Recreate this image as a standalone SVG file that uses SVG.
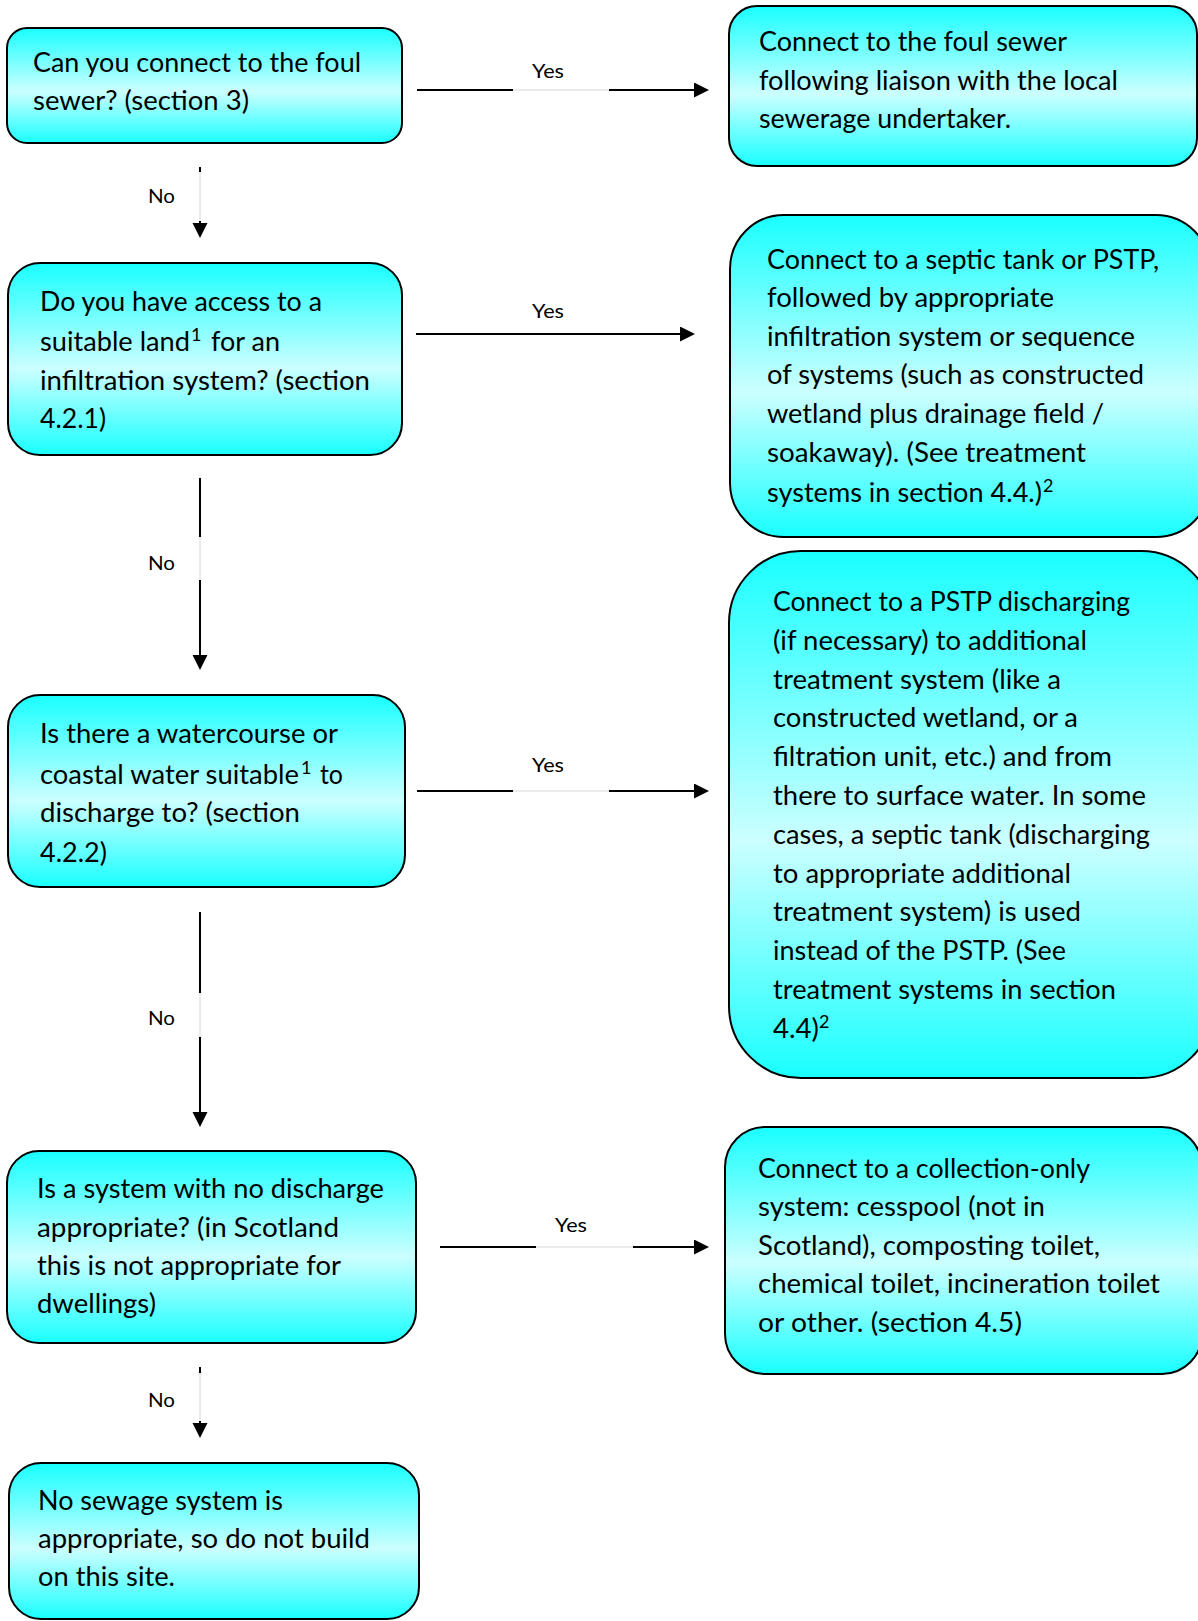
<svg xmlns="http://www.w3.org/2000/svg" width="1198" height="1621" viewBox="0 0 1198 1621">
<defs>
<linearGradient id="g" x1="0" y1="0" x2="0" y2="1">
<stop offset="0" stop-color="#19FFFF"/>
<stop offset="0.55" stop-color="#CCFFFF"/>
<stop offset="1" stop-color="#19FFFF"/>
</linearGradient>
<marker id="ah" markerUnits="userSpaceOnUse" markerWidth="16" markerHeight="16" refX="0" refY="7.5" orient="auto">
<path d="M0,0 L15,7.5 L0,15 Z" fill="#000"/>
</marker>
</defs>
<style>
.box{fill:url(#g);stroke:#000;stroke-width:2}
.t{font-family:Lato,"Open Sans","Liberation Sans",sans-serif;font-size:27px;fill:#000}
.s{font-family:Lato,"Open Sans","Liberation Sans",sans-serif;font-size:18px;fill:#000}
.l{font-family:Lato,"Open Sans","Liberation Sans",sans-serif;font-size:20px;fill:#000}
.c{stroke:#000;stroke-width:2;fill:none}
.ca{stroke:#000;stroke-width:2;fill:none;marker-end:url(#ah)}
.gap{stroke:#D6D6D6;stroke-width:1;fill:none}
</style>

<g id="connectors">
<!-- Yes 1 -->
<line class="c" x1="417" y1="90" x2="513" y2="90"/>
<line class="gap" x1="513" y1="90" x2="609" y2="90"/>
<line class="ca" x1="609" y1="90" x2="694" y2="90"/>
<text class="l" x="532" y="78" textLength="32" lengthAdjust="spacingAndGlyphs">Yes</text>
<!-- No 1 -->
<line class="c" x1="200" y1="167" x2="200" y2="172"/>
<line class="gap" x1="200" y1="172" x2="200" y2="221"/>
<line class="ca" x1="200" y1="221" x2="200" y2="223"/>
<text class="l" x="148" y="203" textLength="27" lengthAdjust="spacingAndGlyphs">No</text>
<!-- Yes 2 -->
<line class="ca" x1="416" y1="334" x2="680" y2="334"/>
<text class="l" x="532" y="318" textLength="32" lengthAdjust="spacingAndGlyphs">Yes</text>
<!-- No 2 -->
<line class="c" x1="200" y1="478" x2="200" y2="537"/>
<line class="gap" x1="200" y1="537" x2="200" y2="580"/>
<line class="ca" x1="200" y1="580" x2="200" y2="655"/>
<text class="l" x="148" y="570" textLength="27" lengthAdjust="spacingAndGlyphs">No</text>
<!-- Yes 3 -->
<line class="c" x1="417" y1="791" x2="513" y2="791"/>
<line class="gap" x1="513" y1="791" x2="609" y2="791"/>
<line class="ca" x1="609" y1="791" x2="694" y2="791"/>
<text class="l" x="532" y="772" textLength="32" lengthAdjust="spacingAndGlyphs">Yes</text>
<!-- No 3 -->
<line class="c" x1="200" y1="912" x2="200" y2="993"/>
<line class="gap" x1="200" y1="993" x2="200" y2="1037"/>
<line class="ca" x1="200" y1="1037" x2="200" y2="1112"/>
<text class="l" x="148" y="1025" textLength="27" lengthAdjust="spacingAndGlyphs">No</text>
<!-- Yes 4 -->
<line class="c" x1="440" y1="1247" x2="536" y2="1247"/>
<line class="gap" x1="536" y1="1247" x2="633" y2="1247"/>
<line class="ca" x1="633" y1="1247" x2="694" y2="1247"/>
<text class="l" x="555" y="1232" textLength="32" lengthAdjust="spacingAndGlyphs">Yes</text>
<!-- No 4 -->
<line class="c" x1="200" y1="1367" x2="200" y2="1373"/>
<line class="gap" x1="200" y1="1373" x2="200" y2="1421"/>
<line class="ca" x1="200" y1="1421" x2="200" y2="1423"/>
<text class="l" x="148" y="1407" textLength="27" lengthAdjust="spacingAndGlyphs">No</text>
</g>

<g id="q1">
<rect class="box" x="7" y="28" width="395" height="115" rx="20"/>
<text class="t" x="33" y="72" textLength="328" lengthAdjust="spacingAndGlyphs">Can you connect to the foul</text>
<text class="t" x="33" y="110" textLength="216" lengthAdjust="spacingAndGlyphs">sewer? (section 3)</text>
</g>

<g id="a1">
<rect class="box" x="729" y="6" width="468" height="160" rx="28"/>
<text class="t" x="759" y="51" textLength="308" lengthAdjust="spacingAndGlyphs">Connect to the foul sewer</text>
<text class="t" x="759" y="90" textLength="359" lengthAdjust="spacingAndGlyphs">following liaison with the local</text>
<text class="t" x="759" y="128" textLength="252" lengthAdjust="spacingAndGlyphs">sewerage undertaker.</text>
</g>

<g id="q2">
<rect class="box" x="8" y="263" width="394" height="192" rx="32"/>
<text class="t" x="40" y="311" textLength="282" lengthAdjust="spacingAndGlyphs">Do you have access to a</text>
<text class="t" x="40" y="351" textLength="150" lengthAdjust="spacingAndGlyphs">suitable land</text>
<text class="s" x="191" y="341">1</text>
<text class="t" x="211" y="351" textLength="69" lengthAdjust="spacingAndGlyphs">for an</text>
<text class="t" x="40" y="390" textLength="330" lengthAdjust="spacingAndGlyphs">infiltration system? (section</text>
<text class="t" x="40" y="428" textLength="66" lengthAdjust="spacingAndGlyphs">4.2.1)</text>
</g>

<g id="a2">
<rect class="box" x="730" y="215" width="480" height="322" rx="54"/>
<text class="t" x="767" y="269" textLength="392" lengthAdjust="spacingAndGlyphs">Connect to a septic tank or PSTP,</text>
<text class="t" x="767" y="307" textLength="287" lengthAdjust="spacingAndGlyphs">followed by appropriate</text>
<text class="t" x="767" y="346" textLength="368" lengthAdjust="spacingAndGlyphs">infiltration system or sequence</text>
<text class="t" x="767" y="384" textLength="377" lengthAdjust="spacingAndGlyphs">of systems (such as constructed</text>
<text class="t" x="767" y="423" textLength="337" lengthAdjust="spacingAndGlyphs">wetland plus drainage field /</text>
<text class="t" x="767" y="462" textLength="319" lengthAdjust="spacingAndGlyphs">soakaway). (See treatment</text>
<text class="t" x="767" y="502" textLength="275" lengthAdjust="spacingAndGlyphs">systems in section 4.4.)</text>
<text class="s" x="1043" y="492">2</text>
</g>

<g id="q3">
<rect class="box" x="8" y="695" width="397" height="192" rx="32"/>
<text class="t" x="40" y="743" textLength="298" lengthAdjust="spacingAndGlyphs">Is there a watercourse or</text>
<text class="t" x="40" y="784" textLength="259" lengthAdjust="spacingAndGlyphs">coastal water suitable</text>
<text class="s" x="301" y="774">1</text>
<text class="t" x="320" y="784" textLength="23" lengthAdjust="spacingAndGlyphs">to</text>
<text class="t" x="40" y="822" textLength="260" lengthAdjust="spacingAndGlyphs">discharge to? (section</text>
<text class="t" x="40" y="862" textLength="67" lengthAdjust="spacingAndGlyphs">4.2.2)</text>
</g>

<g id="a3">
<rect class="box" x="729" y="551" width="484" height="527" rx="72"/>
<text class="t" x="773" y="611" textLength="357" lengthAdjust="spacingAndGlyphs">Connect to a PSTP discharging</text>
<text class="t" x="773" y="650" textLength="314" lengthAdjust="spacingAndGlyphs">(if necessary) to additional</text>
<text class="t" x="773" y="689" textLength="288" lengthAdjust="spacingAndGlyphs">treatment system (like a</text>
<text class="t" x="773" y="727" textLength="305" lengthAdjust="spacingAndGlyphs">constructed wetland, or a</text>
<text class="t" x="773" y="766" textLength="339" lengthAdjust="spacingAndGlyphs">filtration unit, etc.) and from</text>
<text class="t" x="773" y="805" textLength="373" lengthAdjust="spacingAndGlyphs">there to surface water. In some</text>
<text class="t" x="773" y="844" textLength="377" lengthAdjust="spacingAndGlyphs">cases, a septic tank (discharging</text>
<text class="t" x="773" y="883" textLength="298" lengthAdjust="spacingAndGlyphs">to appropriate additional</text>
<text class="t" x="773" y="921" textLength="308" lengthAdjust="spacingAndGlyphs">treatment system) is used</text>
<text class="t" x="773" y="960" textLength="293" lengthAdjust="spacingAndGlyphs">instead of the PSTP. (See</text>
<text class="t" x="773" y="999" textLength="343" lengthAdjust="spacingAndGlyphs">treatment systems in section</text>
<text class="t" x="773" y="1038" textLength="46" lengthAdjust="spacingAndGlyphs">4.4)</text>
<text class="s" x="819" y="1028">2</text>
</g>

<g id="q4">
<rect class="box" x="7" y="1151" width="409" height="192" rx="32"/>
<text class="t" x="37" y="1198" textLength="347" lengthAdjust="spacingAndGlyphs">Is a system with no discharge</text>
<text class="t" x="37" y="1237" textLength="302" lengthAdjust="spacingAndGlyphs">appropriate? (in Scotland</text>
<text class="t" x="37" y="1275" textLength="304" lengthAdjust="spacingAndGlyphs">this is not appropriate for</text>
<text class="t" x="37" y="1313" textLength="119" lengthAdjust="spacingAndGlyphs">dwellings)</text>
</g>

<g id="a4">
<rect class="box" x="725" y="1127" width="477" height="247" rx="40"/>
<text class="t" x="758" y="1178" textLength="332" lengthAdjust="spacingAndGlyphs">Connect to a collection-only</text>
<text class="t" x="758" y="1216" textLength="287" lengthAdjust="spacingAndGlyphs">system: cesspool (not in</text>
<text class="t" x="758" y="1255" textLength="342" lengthAdjust="spacingAndGlyphs">Scotland), composting toilet,</text>
<text class="t" x="758" y="1293" textLength="402" lengthAdjust="spacingAndGlyphs">chemical toilet, incineration toilet</text>
<text class="t" x="758" y="1332" textLength="264" lengthAdjust="spacingAndGlyphs">or other. (section 4.5)</text>
</g>

<g id="end">
<rect class="box" x="9" y="1463" width="410" height="156" rx="32"/>
<text class="t" x="38" y="1510" textLength="245" lengthAdjust="spacingAndGlyphs">No sewage system is</text>
<text class="t" x="38" y="1548" textLength="332" lengthAdjust="spacingAndGlyphs">appropriate, so do not build</text>
<text class="t" x="38" y="1586" textLength="137" lengthAdjust="spacingAndGlyphs">on this site.</text>
</g>
</svg>
